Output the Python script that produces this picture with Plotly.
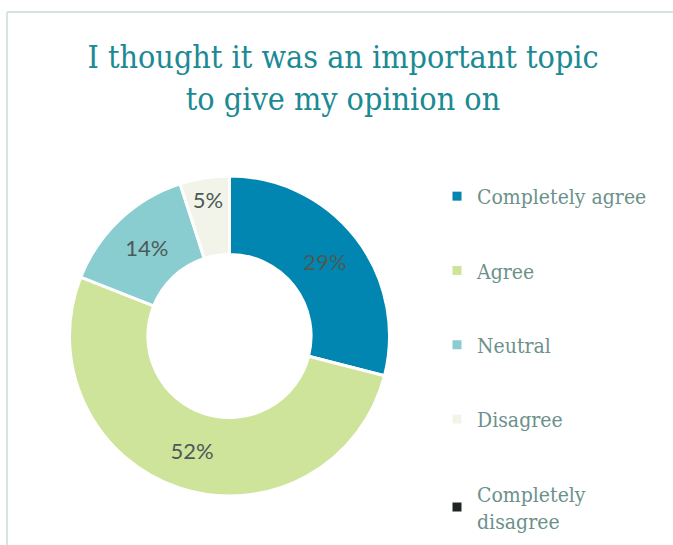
import plotly.graph_objects as go

# Survey responses
categories = ["Completely agree", "Agree", "Neutral", "Disagree", "Completely disagree"]
legend_labels = ["Completely agree", "Agree", "Neutral", "Disagree", "Completely<br>disagree"]
values = [29, 52, 14, 5, 0]
colors = ["#0086b0", "#cfe49b", "#8acdd0", "#f2f4ea", "#1e2523"]

title_text = "I thought it was an important topic<br>to give my opinion on"

W, H = 673, 545

fig = go.Figure()

fig.add_trace(go.Pie(
    labels=categories,
    values=values,
    hole=0.51,
    sort=False,
    direction="clockwise",
    rotation=0,
    marker=dict(colors=colors, line=dict(color="white", width=3)),
    texttemplate="%{value}%",
    textposition="inside",
    insidetextorientation="horizontal",
    textfont=dict(family="Lato", size=22, color="#4b5a57"),
    showlegend=False,
    hoverinfo="skip",
    domain=dict(x=[69.5 / W, 389.5 / W], y=[1 - 496 / H, 1 - 176 / H]),
))

# Legend entries, one group each so they can be spaced apart
for i, (lab, col) in enumerate(zip(legend_labels, colors)):
    fig.add_trace(go.Scatter(
        x=[None], y=[None], mode="markers", name=lab,
        marker=dict(symbol="square", size=9, color=col),
        legendgroup=f"g{i}",
    ))

fig.update_layout(
    width=W, height=H,
    margin=dict(l=0, r=0, t=0, b=0),
    paper_bgcolor="white",
    plot_bgcolor="white",
    xaxis=dict(visible=False),
    yaxis=dict(visible=False),
    title=dict(
        text=title_text,
        x=343 / W, xanchor="center",
        y=1 - 68 / H, yanchor="top",
        font=dict(family="DejaVu Serif Condensed", size=32, color="#1b8a94"),
    ),
    legend=dict(
        x=437 / W, xanchor="left",
        y=1 - 176 / H, yanchor="top",
        font=dict(family="DejaVu Serif Condensed", size=21, color="#6c918b"),
        tracegroupgap=44,
        bgcolor="rgba(0,0,0,0)",
    ),
    shapes=[
        dict(type="line", xref="paper", yref="paper",
             x0=7 / W, x1=1, y0=1 - 12 / H, y1=1 - 12 / H,
             line=dict(color="#d6e4e4", width=2)),
        dict(type="line", xref="paper", yref="paper",
             x0=7 / W, x1=7 / W, y0=0, y1=1 - 12 / H,
             line=dict(color="#d6e4e4", width=2)),
    ],
)

fig.write_html("out.html")
